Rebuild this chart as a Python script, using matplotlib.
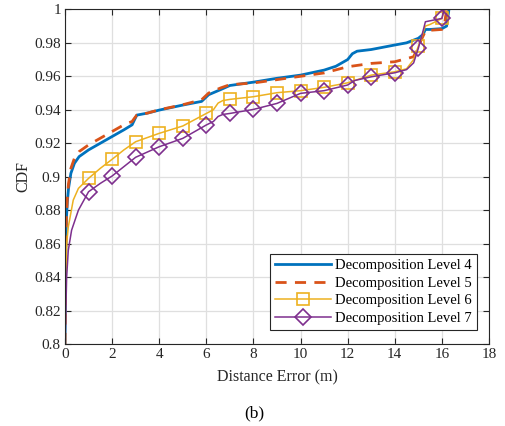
import numpy as np
import matplotlib
matplotlib.use("Agg")
import matplotlib.pyplot as plt
from matplotlib.ticker import FormatStrFormatter

plt.rcParams["font.family"] = ["Liberation Serif", "DejaVu Serif"]
plt.rcParams["mathtext.fontset"] = "stix"

# CDF curves of the distance error for each decomposition level
x_l4 = [0, 0.02, 0.04, 0.06, 0.1, 0.15, 0.25, 0.4, 0.6, 1.0, 1.5, 2.0, 2.5, 2.85, 2.95, 3.05,
        3.5, 4.0, 5.0, 5.8, 5.95, 6.1, 6.6, 7.0, 8.0, 9.0, 10.0, 11.0, 11.5, 12.0, 12.2, 12.4,
        13.0, 14.0, 14.5, 15.0, 15.2, 15.3, 15.5, 16.0, 16.2, 16.3]
y_l4 = [0.8, 0.83, 0.86, 0.875, 0.885, 0.893, 0.902, 0.908, 0.912, 0.916, 0.920, 0.924, 0.928,
        0.931, 0.934, 0.9368, 0.938, 0.9398, 0.9428, 0.945, 0.947, 0.949, 0.952, 0.9545, 0.9565,
        0.9588, 0.9607, 0.9637, 0.966, 0.970, 0.9735, 0.975, 0.976, 0.9787, 0.980, 0.9827, 0.985,
        0.988, 0.988, 0.9885, 0.990, 1.0]

x_l5 = [0, 0.02, 0.04, 0.06, 0.1, 0.15, 0.25, 0.4, 0.6, 1.0, 1.5, 2.0, 2.5, 2.85, 2.95, 3.05,
        3.5, 4.0, 5.0, 5.8, 5.95, 6.1, 6.6, 7.0, 8.0, 9.0, 10.0, 11.0, 12.0, 13.0, 14.0, 14.8,
        15.0, 15.3, 15.5, 16.0, 16.1, 16.2]
y_l5 = [0.8, 0.83, 0.86, 0.876, 0.887, 0.896, 0.905, 0.911, 0.915, 0.919, 0.923, 0.927, 0.931,
        0.933, 0.935, 0.9368, 0.938, 0.940, 0.943, 0.946, 0.948, 0.950, 0.953, 0.955, 0.956,
        0.958, 0.960, 0.962, 0.9657, 0.9677, 0.9687, 0.9717, 0.978, 0.987, 0.9875, 0.988, 0.990,
        1.0]

x_l6 = [0, 0.02, 0.04, 0.07, 0.14, 0.35, 0.57, 1, 1.5, 2, 2.5, 3, 4, 5, 6, 6.3, 6.5, 6.7, 7,
        8, 9, 10, 11, 12, 13, 14, 14.5, 14.8, 15, 15.2, 15.3, 15.5, 16, 16.1]
y_l6 = [0.8, 0.82, 0.84, 0.86, 0.87, 0.886, 0.893, 0.899, 0.905, 0.9104, 0.916, 0.9209, 0.9259,
        0.9303, 0.9378, 0.940, 0.944, 0.9455, 0.9462, 0.9478, 0.9502, 0.9514, 0.9534, 0.9561,
        0.9607, 0.9627, 0.9645, 0.970, 0.978, 0.986, 0.990, 0.991, 0.9946, 1.0]

x_l7 = [0, 0.03, 0.07, 0.14, 0.28, 0.57, 1, 1.5, 2, 2.5, 3, 4, 5, 6, 6.3, 6.5, 6.7, 7, 8, 9,
        10, 11, 12, 12.3, 13, 14, 14.5, 14.8, 15, 15.2, 15.3, 16, 16.1]
y_l7 = [0.8, 0.816, 0.84, 0.856, 0.868, 0.880, 0.891, 0.896, 0.9004, 0.906, 0.9116, 0.9179,
        0.9229, 0.9309, 0.933, 0.936, 0.9372, 0.9378, 0.9402, 0.9438, 0.9498, 0.9514, 0.9548,
        0.9575, 0.9597, 0.9621, 0.964, 0.968, 0.9767, 0.987, 0.9926, 0.9946, 1.0]

labels = ["Decomposition Level 4", "Decomposition Level 5",
          "Decomposition Level 6", "Decomposition Level 7"]


def int_marks(xs):
    # markers only on whole metres 1..16
    return [i for i, v in enumerate(xs) if float(v).is_integer() and 1 <= v <= 16]


fig = plt.figure(figsize=(5.05, 4.26), dpi=100)
ax = fig.add_axes([0.1287, 0.1925, 0.8396, 0.7855])

ax.plot(x_l4, y_l4, color="#0072BD", lw=2.0, label=labels[0])
ax.plot(x_l5, y_l5, color="#D95319", lw=2.0, dashes=(4, 3), label=labels[1])
ax.plot(x_l6, y_l6, color="#EDB120", lw=1.1, marker="s", ms=8, mfc="none", mew=1.2,
        markevery=int_marks(x_l6), label=labels[2])
ax.plot(x_l7, y_l7, color="#7E2F8E", lw=1.1, marker="D", ms=8, mfc="none", mew=1.2,
        markevery=int_marks(x_l7), label=labels[3])

ax.set_xlim(0, 18)
ax.set_ylim(0.8, 1)
ax.set_xticks(np.arange(0, 19, 2))
ax.set_yticks(np.arange(0.8, 1.001, 0.02))
ax.yaxis.set_major_formatter(FormatStrFormatter("%g"))
ax.grid(True, color="#dfdfdf", lw=0.9)
ax.set_axisbelow(True)
for s in ax.spines.values():
    s.set_color("#262626")
    s.set_linewidth(0.8)
ax.tick_params(direction="in", top=True, right=True, length=4, width=0.8,
               colors="#262626", labelsize=11, pad=3)

ax.set_xlabel("Distance Error (m)", fontsize=11.5, color="#262626", labelpad=6)
ax.set_ylabel("CDF", fontsize=11.5, color="#262626", labelpad=2)

leg = ax.legend(loc="lower right", bbox_to_anchor=(0.972, 0.042), borderaxespad=0,
                fontsize=10.5, handlelength=3.8, handletextpad=0.3, borderpad=0.35,
                labelspacing=0.3, fancybox=False, framealpha=1, edgecolor="#262626")
leg.get_frame().set_linewidth(0.8)

fig.text(0.503, 0.03, "(b)", fontsize=12.5, ha="center", va="center")

fig.savefig("out.png", dpi=100)
